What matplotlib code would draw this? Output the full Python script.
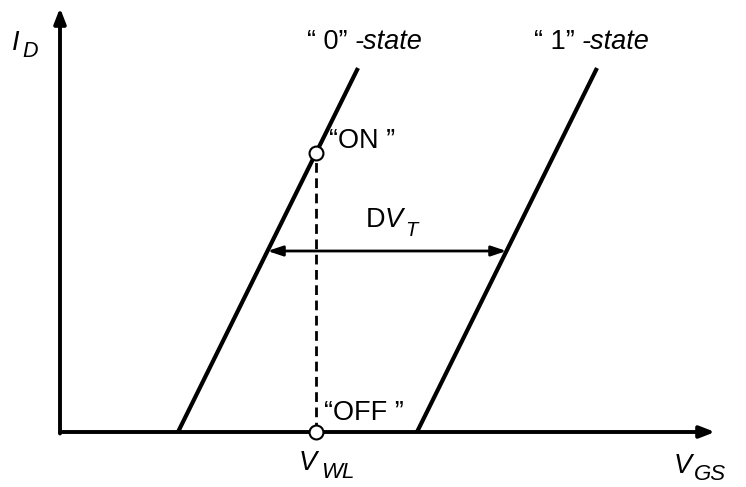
import matplotlib.pyplot as plt
import numpy as np

# threshold voltages of the two states and the read voltage (schematic units)
vt_states = [118, 357]
state_nums = ['\u201c 0\u201d ', '\u201c 1\u201d ']
slope = 364 / 180          # dI/dV of the linear region
i_top = 364                # where the curves stop
v_wl = 256
i_dv = 181                 # height of the delta-VT arrow
v_axis_end = 655
i_axis_end = 424

plt.rcParams['font.family'] = ['Liberation Sans', 'DejaVu Sans']

fig = plt.figure(figsize=(7.46, 4.87), dpi=100)
ax = fig.add_axes([0, 0, 1, 1])
ax.set_xlim(-60, 686)
ax.set_ylim(-55, 432)
ax.axis('off')

fs = 19.5
fs_sub = 16


def label(x, y, base, sub, dx, dy, base_style='italic', sub_size=fs_sub):
    ax.text(x, y, base, fontsize=fs, style=base_style, va='baseline')
    ax.text(x + dx, y - dy, sub, fontsize=sub_size, style='italic', va='baseline')


# axes with arrow heads
ax.annotate('', xy=(v_axis_end, 0), xytext=(0, 0),
            arrowprops=dict(arrowstyle='-|>,head_length=0.9,head_width=0.35', lw=2.8,
                            color='k', shrinkA=0, shrinkB=0))
ax.annotate('', xy=(0, i_axis_end), xytext=(0, -1.5),
            arrowprops=dict(arrowstyle='-|>,head_length=0.9,head_width=0.35', lw=2.8,
                            color='k', shrinkA=0, shrinkB=0))

# transfer curves
label_split = [295, 522]
for vt, num, xs in zip(vt_states, state_nums, label_split):
    v = np.array([vt, vt + i_top / slope])
    ax.plot(v, (v - vt) * slope, color='k', lw=3, solid_capstyle='butt')
    ax.text(xs, 383, num, ha='right', va='baseline', fontsize=fs)
    ax.text(xs, 383, '-state', ha='left', va='baseline', fontsize=fs, style='italic')

# read point
i_on = (v_wl - vt_states[0]) * slope
ax.plot([v_wl, v_wl], [0, i_on], color='k', lw=2, ls=(0, (3.5, 2)))
ax.plot([v_wl, v_wl], [0, i_on], 'o', ms=10, mfc='white', mec='k', mew=1.5, zorder=5)
ax.text(v_wl + 13, 284, '\u201cON \u201d', fontsize=fs, va='baseline')
ax.text(v_wl + 8, 12, '\u201cOFF \u201d', fontsize=fs, va='baseline')

# delta VT arrow
v_left = vt_states[0] + i_dv / slope
v_right = vt_states[1] + i_dv / slope
ax.annotate('', xy=(v_right, i_dv), xytext=(v_left, i_dv),
            arrowprops=dict(arrowstyle='<|-|>,head_length=0.9,head_width=0.3', lw=2,
                            color='k', shrinkA=0, shrinkB=0))
ax.text(306, 205, 'D', fontsize=fs, va='baseline')
label(325, 205, 'V', 'T', 20, 9, sub_size=14.5)

# axis labels
label(-48, 382, 'I', 'D', 10, 7, sub_size=15.5)
label(239, -38, 'V', 'WL', 22, 8)
label(614, -41, 'V', 'GS', 20, 7)

fig.savefig('out.png', dpi=100)
